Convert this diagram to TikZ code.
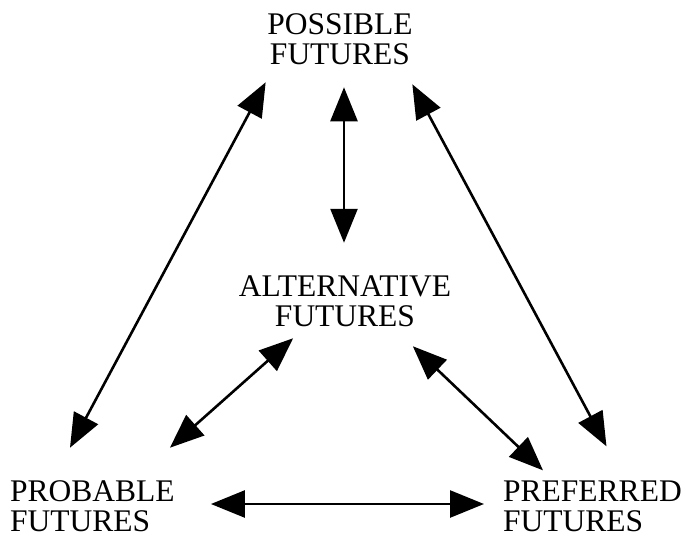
\documentclass[tikz,border=0pt]{standalone}
\usepackage{fontspec}
\setmainfont{Liberation Serif}
\usetikzlibrary{arrows.meta,calc}

\begin{document}
\begin{tikzpicture}[x=1pt,y=-1pt,
		lbl/.style={inner sep=0pt,font=\fontsize{31.5}{30}\selectfont},
		link/.style={line width=2.6pt,{Triangle[length=34pt,width=27pt]}-{Triangle[length=34pt,width=27pt]}}]
		\useasboundingbox (0,0) rectangle (686,538);
		\node[lbl,align=center] (Poss) at (340,39) {POSSIBLE\\FUTURES};
		\node[lbl,align=center] (Alt) at (345,301.5) {ALTERNATIVE\\FUTURES};
		\node[lbl,align=left,anchor=west] (Prob) at (10,506) {PROBABLE\\FUTURES};
		\node[lbl,align=left,anchor=west] (Pref) at (503,506.5) {PREFERRED\\FUTURES};
%
		\path[link]
			($(Poss.south west) + (-1.5,17.5)$) edge ($(Prob.north west) + (60,-32.5)$)
			($(Poss.south) + (4,22.5)$) edge ($(Alt.north) + (-1,-33)$)
			($(Poss.south east) + (-0.5,19.5)$) edge ($(Pref.north) + (14,-34.5)$);
		\path[link]
			($(Alt.south west) + (54.5,11)$) edge ($(Prob.north east) + (-5,-32.5)$)
			($(Alt.south east) + (-38.5,19)$) edge ($(Pref.north west) + (40,-10.5)$)
			($(Prob.east) + (36,-2)$) edge ($(Pref.west) + (-19,-2.5)$);
	\end{tikzpicture}
\end{document}
